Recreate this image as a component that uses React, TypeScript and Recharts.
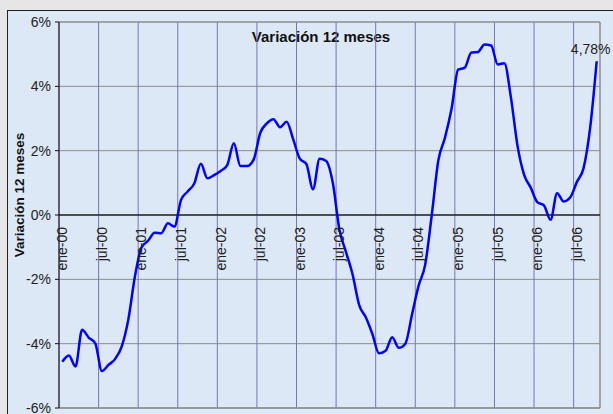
import React from 'react';
import { LineChart, Line, XAxis, YAxis, CartesianGrid, ReferenceLine, LabelList } from 'recharts';

const meses = ['ene', 'feb', 'mar', 'abr', 'may', 'jun', 'jul', 'ago', 'sep', 'oct', 'nov', 'dic'];
const anios = ['00', '01', '02', '03', '04', '05', '06'];

// variación 12 meses (%), ene-00 .. oct-06
const variacion = [
  -4.56, -4.37, -4.71, -3.57, -3.81, -3.99, -4.85, -4.66, -4.48, -4.09, -3.26, -1.92,
  -1.01, -0.8, -0.55, -0.57, -0.26, -0.36, 0.47, 0.73, 0.98, 1.59, 1.14, 1.24,
  1.37, 1.55, 2.23, 1.52, 1.52, 1.72, 2.55, 2.85, 2.98, 2.73, 2.9, 2.35,
  1.75, 1.58, 0.8, 1.75, 1.68, 1.0, -0.45, -1.15, -1.85, -2.8, -3.18, -3.7,
  -4.3, -4.22, -3.8, -4.13, -4.0, -3.1, -2.2, -1.55, 0.0, 1.7, 2.4, 3.3,
  4.52, 4.58, 5.05, 5.07, 5.3, 5.27, 4.68, 4.72, 3.65, 2.15, 1.25, 0.85,
  0.4, 0.3, -0.15, 0.68, 0.42, 0.55, 1.03, 1.45, 2.7, 4.78,
];

const categorias = variacion.map((_, i) => `${meses[i % 12]}-${anios[Math.floor(i / 12)]}`);
const yTicks = [-6, -4, -2, 0, 2, 4, 6];
const xTicks = categorias.map((_, i) => i).filter((i) => i % 6 === 0);
const separadores = xTicks.map((i) => i - 0.5);

const data = variacion.map((v, i) => ({ i, mes: categorias[i], v }));

const W = 613;
const H = 414;
const MARGIN = { top: 22, right: 13, bottom: 0, left: 0 };
const XAXIS_H = 6;
const ZERO_Y = MARGIN.top + (H - MARGIN.top - MARGIN.bottom - XAXIS_H) / 2;
const FONT = 'Arial, "Liberation Sans", sans-serif';

function MesTick(props: any) {
  const { x, payload } = props;
  const y = ZERO_Y + 12;
  return (
    <text
      transform={`translate(${x},${y}) rotate(-90)`}
      textAnchor="end"
      dy="0.35em"
      fontSize={14}
      fontFamily={FONT}
      fill="#222"
    >
      {categorias[payload.value]}
    </text>
  );
}

function YLabel(props: any) {
  const vb = props.viewBox ?? { x: 0, y: MARGIN.top, width: 59, height: H - MARGIN.top - XAXIS_H };
  const cx = vb.x + 19;
  const cy = vb.y + vb.height / 2 - 20;
  return (
    <text
      x={cx}
      y={cy}
      transform={`rotate(-90, ${cx}, ${cy})`}
      textAnchor="middle"
      dominantBaseline="central"
      fontSize={13.5}
      fontWeight="bold"
      fontFamily={FONT}
      fill="#111"
    >
      Variación 12 meses
    </text>
  );
}

function UltimoValor(props: any) {
  const { x, y, index, value } = props;
  if (index !== variacion.length - 1) return null;
  return (
    <text x={x - 6} y={y - 7} textAnchor="middle" fontSize={14} fontFamily={FONT} fill="#222">
      {String(value).replace('.', ',')}%
    </text>
  );
}

export default function App() {
  return (
    <div style={{ position: 'absolute', left: 0, top: 0, width: W, height: H, background: '#e6e6e6', overflow: 'hidden' }}>
      <div
        style={{
          position: 'absolute', left: 7, top: 10, width: 640, height: 440,
          border: '1px solid #222', background: '#dce8f6',
        }}
      />
      <div
        style={{
          position: 'absolute', left: 221, top: 28, width: 200, textAlign: 'center',
          fontFamily: FONT, fontWeight: 'bold', fontSize: 15, lineHeight: '17px', color: '#111',
        }}
      >
        Variación 12 meses
      </div>
      <div style={{ position: 'absolute', left: 0, top: 0 }}>
        <LineChart width={W} height={H} data={data} margin={MARGIN} style={{ overflow: 'visible' }}>
          <CartesianGrid vertical={false} stroke="#8c8c8c" strokeWidth={1} />
          {separadores.map((s) => (
            <ReferenceLine key={s} x={s} stroke="#7676b4" strokeWidth={1} />
          ))}
          <ReferenceLine x={variacion.length - 0.5} stroke="#8c8c8c" strokeWidth={1.5} />
          <ReferenceLine y={6} stroke="#8c8c8c" strokeWidth={1} />
          <ReferenceLine y={-6} stroke="#8c8c8c" strokeWidth={1.5} />
          <ReferenceLine y={0} stroke="#2a2a2a" strokeWidth={1.5} />
          <XAxis
            dataKey="i"
            type="number"
            domain={[-0.5, variacion.length - 0.5]}
            ticks={xTicks}
            interval={0}
            height={XAXIS_H}
            axisLine={false}
            tickLine={false}
            tick={MesTick}
          />
          <YAxis
            type="number"
            domain={[-6, 6]}
            ticks={yTicks}
            interval={0}
            width={59}
            axisLine={{ stroke: '#111', strokeWidth: 1 }}
            tickLine={{ stroke: '#111' }}
            tickSize={4}
            tickMargin={4}
            tickFormatter={(v: number) => `${v}%`}
            tick={{ fontSize: 14, fontFamily: FONT, fill: '#222' }}
            label={<YLabel />}
          />
          <Line
            type="monotone"
            dataKey="v"
            stroke="#0000ff"
            strokeWidth={2.5}
            dot={false}
            isAnimationActive={false}
          >
            <LabelList dataKey="v" content={<UltimoValor />} />
          </Line>
        </LineChart>
      </div>
    </div>
  );
}
